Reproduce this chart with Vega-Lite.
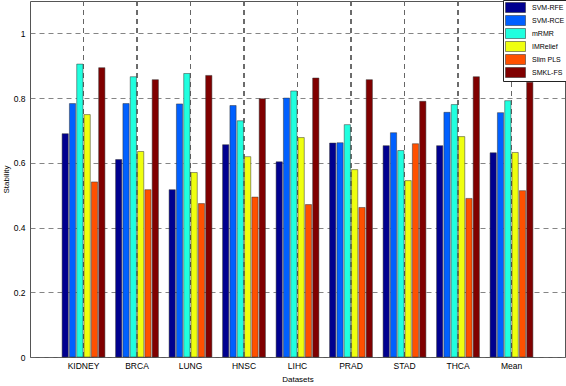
{
  "$schema": "https://vega.github.io/schema/vega-lite/v6.json",
  "width": 535,
  "height": 356,
  "autosize": "none",
  "padding": {"left": 30, "top": 1, "right": 1, "bottom": 29},
  "background": "white",
  "config": {
    "view": {"stroke": "#555", "strokeWidth": 1},
    "font": "Liberation Sans"
  },
  "data": {
    "values": [
      {"dataset": "KIDNEY", "method": "SVM-RFE", "value": 0.690},
      {"dataset": "KIDNEY", "method": "SVM-RCE", "value": 0.783},
      {"dataset": "KIDNEY", "method": "mRMR", "value": 0.905},
      {"dataset": "KIDNEY", "method": "IMRelief", "value": 0.749},
      {"dataset": "KIDNEY", "method": "Slim PLS", "value": 0.541},
      {"dataset": "KIDNEY", "method": "SMKL-FS", "value": 0.894},
      {"dataset": "BRCA", "method": "SVM-RFE", "value": 0.610},
      {"dataset": "BRCA", "method": "SVM-RCE", "value": 0.783},
      {"dataset": "BRCA", "method": "mRMR", "value": 0.866},
      {"dataset": "BRCA", "method": "IMRelief", "value": 0.635},
      {"dataset": "BRCA", "method": "Slim PLS", "value": 0.517},
      {"dataset": "BRCA", "method": "SMKL-FS", "value": 0.857},
      {"dataset": "LUNG", "method": "SVM-RFE", "value": 0.517},
      {"dataset": "LUNG", "method": "SVM-RCE", "value": 0.782},
      {"dataset": "LUNG", "method": "mRMR", "value": 0.876},
      {"dataset": "LUNG", "method": "IMRelief", "value": 0.570},
      {"dataset": "LUNG", "method": "Slim PLS", "value": 0.474},
      {"dataset": "LUNG", "method": "SMKL-FS", "value": 0.870},
      {"dataset": "HNSC", "method": "SVM-RFE", "value": 0.656},
      {"dataset": "HNSC", "method": "SVM-RCE", "value": 0.777},
      {"dataset": "HNSC", "method": "mRMR", "value": 0.730},
      {"dataset": "HNSC", "method": "IMRelief", "value": 0.619},
      {"dataset": "HNSC", "method": "Slim PLS", "value": 0.494},
      {"dataset": "HNSC", "method": "SMKL-FS", "value": 0.798},
      {"dataset": "LIHC", "method": "SVM-RFE", "value": 0.603},
      {"dataset": "LIHC", "method": "SVM-RCE", "value": 0.800},
      {"dataset": "LIHC", "method": "mRMR", "value": 0.822},
      {"dataset": "LIHC", "method": "IMRelief", "value": 0.678},
      {"dataset": "LIHC", "method": "Slim PLS", "value": 0.471},
      {"dataset": "LIHC", "method": "SMKL-FS", "value": 0.862},
      {"dataset": "PRAD", "method": "SVM-RFE", "value": 0.661},
      {"dataset": "PRAD", "method": "SVM-RCE", "value": 0.662},
      {"dataset": "PRAD", "method": "mRMR", "value": 0.718},
      {"dataset": "PRAD", "method": "IMRelief", "value": 0.579},
      {"dataset": "PRAD", "method": "Slim PLS", "value": 0.462},
      {"dataset": "PRAD", "method": "SMKL-FS", "value": 0.857},
      {"dataset": "STAD", "method": "SVM-RFE", "value": 0.653},
      {"dataset": "STAD", "method": "SVM-RCE", "value": 0.693},
      {"dataset": "STAD", "method": "mRMR", "value": 0.638},
      {"dataset": "STAD", "method": "IMRelief", "value": 0.545},
      {"dataset": "STAD", "method": "Slim PLS", "value": 0.659},
      {"dataset": "STAD", "method": "SMKL-FS", "value": 0.790},
      {"dataset": "THCA", "method": "SVM-RFE", "value": 0.653},
      {"dataset": "THCA", "method": "SVM-RCE", "value": 0.756},
      {"dataset": "THCA", "method": "mRMR", "value": 0.780},
      {"dataset": "THCA", "method": "IMRelief", "value": 0.681},
      {"dataset": "THCA", "method": "Slim PLS", "value": 0.490},
      {"dataset": "THCA", "method": "SMKL-FS", "value": 0.866},
      {"dataset": "Mean", "method": "SVM-RFE", "value": 0.631},
      {"dataset": "Mean", "method": "SVM-RCE", "value": 0.755},
      {"dataset": "Mean", "method": "mRMR", "value": 0.792},
      {"dataset": "Mean", "method": "IMRelief", "value": 0.632},
      {"dataset": "Mean", "method": "Slim PLS", "value": 0.514},
      {"dataset": "Mean", "method": "SMKL-FS", "value": 0.849}
    ]
  },
  "encoding": {
    "x": {
      "field": "dataset",
      "type": "nominal",
      "sort": ["KIDNEY", "BRCA", "LUNG", "HNSC", "LIHC", "PRAD", "STAD", "THCA", "Mean"],
      "scale": {"paddingInner": 0.2, "paddingOuter": 0.6},
      "axis": {
        "title": "Datasets",
        "titleFontSize": 8,
        "titleFontWeight": "normal",
        "titleColor": "#000",
        "titlePadding": 6,
        "labelAngle": 0,
        "labelFontSize": 8.5,
        "labelColor": "#000",
        "labelPadding": 4,
        "domain": false,
        "ticks": false,
        "grid": false
      }
    }
  },
  "layer": [
    {
      "mark": {"type": "rule", "color": "#666", "strokeDash": [5, 4], "strokeWidth": 0.8},
      "encoding": {}
    },
    {
      "mark": {"type": "bar", "stroke": "#333", "strokeWidth": 0.5},
      "encoding": {
        "xOffset": {
          "field": "method",
          "type": "nominal",
          "sort": ["SVM-RFE", "SVM-RCE", "mRMR", "IMRelief", "Slim PLS", "SMKL-FS"],
          "scale": {"paddingInner": 0.15, "paddingOuter": 0}
        },
        "y": {
          "field": "value",
          "type": "quantitative",
          "scale": {"domain": [0, 1.1], "nice": false, "zero": true},
          "axis": {
            "title": "Stability",
            "titleFontSize": 8,
            "titleFontWeight": "normal",
            "titleColor": "#000",
            "titlePadding": 3,
            "values": [0, 0.2, 0.4, 0.6, 0.8, 1],
            "format": "~g",
            "labelFontSize": 8.5,
            "labelColor": "#000",
            "labelPadding": 5,
            "domain": false,
            "ticks": false,
            "grid": true,
            "gridColor": "#666",
            "gridDash": [5, 4],
            "gridWidth": 0.8
          }
        },
        "color": {
          "field": "method",
          "type": "nominal",
          "sort": ["SVM-RFE", "SVM-RCE", "mRMR", "IMRelief", "Slim PLS", "SMKL-FS"],
          "scale": {
            "domain": ["SVM-RFE", "SVM-RCE", "mRMR", "IMRelief", "Slim PLS", "SMKL-FS"],
            "range": ["#00008F", "#0060FF", "#20FFDF", "#EFFF10", "#FF5000", "#800000"]
          },
          "legend": {
            "title": null,
            "orient": "none",
            "legendX": 473,
            "legendY": -1,
            "padding": 2,
            "fillColor": "white",
            "strokeColor": "#222",
            "symbolType": "M-2,-1H2V1H-2Z",
            "symbolSize": 100,
            "symbolStrokeColor": "#222",
            "symbolStrokeWidth": 0.5,
            "symbolOpacity": 1,
            "symbolOffset": 5,
            "labelOffset": 11,
            "labelFontSize": 7,
            "labelColor": "#000",
            "rowPadding": 0,
            "labelLimit": 60
          }
        }
      }
    }
  ]
}
